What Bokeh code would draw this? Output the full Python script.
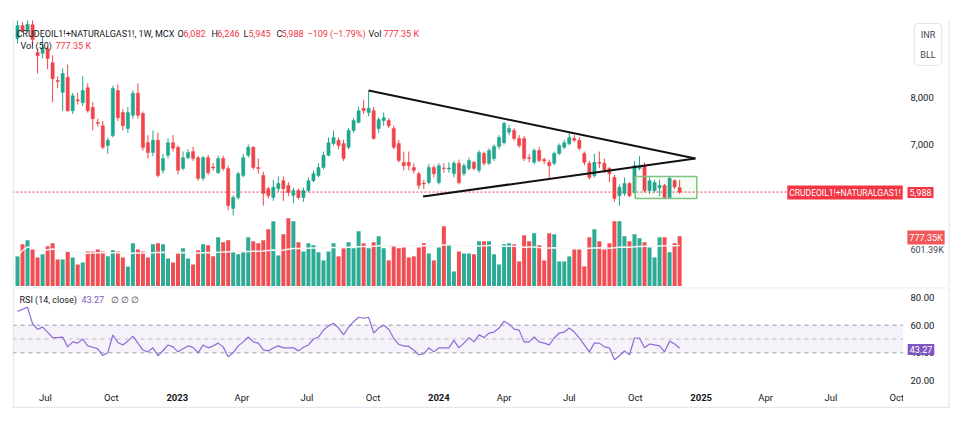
import pandas as pd
import numpy as np
from bokeh.plotting import figure
from bokeh.models import (Range1d, Label, Span, ColumnDataSource, BoxAnnotation)
from bokeh.layouts import column
from bokeh.embed import file_html
from bokeh.resources import INLINE

# ---------------- data (weekly, from 2022-05-23) ----------------
first_week = "2022-05-23"
opens = [9255, 9530, 9420, 9550, 8960, 8940, 9040, 8740, 8360, 8110,
         8430, 7720, 7950, 7890, 8210, 7790, 7470, 7400, 6980, 7190,
         8150, 7680, 7340, 7620, 8090, 7660, 7040, 6830, 7090, 6450,
         6770, 7040, 6940, 6490, 6720, 6850, 6720, 6280, 6720, 6520,
         6400, 6700, 6490, 5640, 5870, 6340, 6770, 6940, 6510, 6340,
         6060, 5870, 6060, 6230, 6130, 5920, 6020, 5870, 6020, 6230,
         6340, 6510, 6770, 7020, 7090, 7020, 6940, 7300, 7470, 7770,
         7680, 7720, 7340, 7510, 7510, 7340, 7020, 6620, 6620, 6510,
         6380, 6180, 6190, 6510, 6190, 6500, 6480, 6380, 6600, 6380,
         6490, 6620, 6450, 6810, 6600, 6700, 6960, 7040, 7260, 7300,
         7130, 7130, 6720, 6620, 6870, 6680, 6620, 6600, 6810, 6940,
         7020, 7130, 7090, 6810, 6600, 6340, 6620, 6600, 6490, 6300,
         5910, 5960, 6170, 5980, 6490, 6550, 6020, 6020, 6080, 6130,
         5870, 6230, 6082]
closes = [9532, 9420, 9560, 9230, 8890, 9060, 8830, 8400, 8340, 8510,
          7720, 8040, 7930, 8150, 7720, 7550, 7450, 6940, 7090, 8190,
          7570, 7400, 7680, 8090, 7620, 6940, 6830, 7090, 6340, 6700,
          7040, 6920, 6450, 6720, 6830, 6700, 6280, 6720, 6400, 6500,
          6700, 6490, 5700, 5870, 6380, 6720, 6940, 6510, 6490, 5960,
          5910, 6090, 6170, 6060, 5980, 6020, 5870, 6020, 6230, 6380,
          6510, 6770, 7040, 7150, 6980, 6700, 7300, 7510, 7720, 7720,
          7770, 7130, 7530, 7570, 7400, 6940, 6660, 6550, 6550, 6450,
          6130, 6160, 6510, 6380, 6550, 6490, 6500, 6600, 6190, 6550,
          6660, 6490, 6830, 6600, 6870, 6960, 7150, 7450, 7340, 7130,
          6980, 6700, 6700, 6870, 6660, 6650, 6550, 6810, 6980, 7040,
          7150, 7090, 6920, 6620, 6300, 6620, 6600, 6450, 6380, 5850,
          6090, 6170, 5910, 6550, 6550, 6020, 6230, 6190, 6130, 5870,
          6280, 6097, 5988]
highs = [9640, 9600, 9640, 9640, 9040, 9300, 9100, 8900, 8450, 8620,
         8700, 8100, 8100, 8450, 8300, 7900, 7550, 7500, 7150, 8250,
         8280, 7750, 7800, 8150, 8300, 7700, 7200, 7300, 7250, 6800,
         7130, 7200, 6980, 6850, 6900, 6950, 6760, 6760, 6780, 6600,
         6760, 6760, 6550, 5920, 6420, 6800, 7000, 6960, 6700, 6420,
         6100, 6250, 6320, 6320, 6200, 6080, 6060, 6080, 6300, 6450,
         6600, 6850, 7150, 7300, 7150, 7100, 7350, 7560, 7800, 7950,
         8150, 7800, 7580, 7680, 7560, 7400, 7100, 6850, 6850, 6600,
         6420, 6250, 6580, 6560, 6600, 6600, 6620, 6650, 6680, 6600,
         6720, 6650, 6880, 6850, 6920, 7000, 7200, 7480, 7420, 7350,
         7200, 7180, 6800, 6920, 6950, 6720, 6680, 6850, 7020, 7100,
         7250, 7200, 7150, 6850, 6650, 6800, 6850, 6700, 6520, 6350,
         6150, 6300, 6200, 6650, 6750, 6620, 6300, 6250, 6250, 6160,
         6320, 6260, 6246]
lows = [9150, 9380, 9390, 9100, 8510, 8830, 8600, 7900, 8200, 7720,
        7700, 7650, 7850, 7820, 7680, 7300, 7380, 6900, 6800, 7150,
        7500, 7300, 7250, 7550, 7550, 6870, 6700, 6750, 6300, 6380,
        6700, 6850, 6360, 6450, 6690, 6650, 6230, 6230, 6350, 6440,
        6380, 6440, 5600, 5490, 5830, 6300, 6720, 6460, 6380, 5700,
        5850, 5800, 6000, 5800, 5900, 5750, 5830, 5780, 5980, 6200,
        6300, 6470, 6750, 6980, 6900, 6650, 6900, 7250, 7450, 7650,
        7600, 7100, 7250, 7400, 7350, 6900, 6620, 6450, 6450, 6380,
        6050, 6050, 6150, 6300, 6150, 6400, 6400, 6300, 6150, 6330,
        6450, 6450, 6400, 6550, 6560, 6650, 6900, 7000, 7200, 7080,
        6930, 6650, 6620, 6580, 6620, 6580, 6250, 6560, 6780, 6900,
        6980, 7050, 6880, 6560, 6250, 6300, 6500, 6400, 6200, 5780,
        5700, 5900, 5880, 5950, 6450, 5980, 5950, 5980, 5900, 5840,
        5840, 6050, 5945]
volumes_k = [467, 653, 715, 575, 451, 498, 622, 669, 420, 420,
             544, 451, 342, 373, 544, 544, 575, 544, 467, 560,
             544, 451, 311, 669, 575, 544, 451, 653, 669, 653,
             435, 373, 513, 591, 435, 342, 560, 653, 638, 467,
             762, 684, 715, 544, 498, 544, 762, 700, 669, 715,
             886, 1011, 482, 809, 1057, 1011, 684, 544, 669, 638,
             529, 404, 544, 669, 467, 591, 684, 591, 855, 669,
             591, 684, 778, 591, 404, 622, 591, 606, 451, 467,
             606, 669, 513, 404, 606, 933, 653, 233, 544, 513,
             513, 498, 700, 700, 700, 498, 342, 653, 669, 653,
             389, 793, 700, 824, 638, 404, 824, 809, 389, 389,
             467, 575, 575, 311, 762, 886, 700, 575, 669, 1011,
             1011, 778, 700, 809, 746, 684, 606, 451, 762, 762,
             529, 669, 777.35]
rsi_values = [70, 71.5, 72.9, 61, 57, 58.6, 55, 51, 51, 51.4,
              44.3, 47.9, 47, 50, 45, 44, 42.9, 38, 40, 52.9,
              47.5, 45.7, 48.5, 52.1, 47, 42, 40.7, 43.6, 37.9, 41.5,
              45.7, 44.3, 40.7, 43, 45, 44, 40, 45.7, 43.6, 45,
              47, 44.3, 37.1, 40, 45, 47.9, 51.4, 47.9, 47, 42.1,
              41.4, 43.5, 45, 43.6, 43.6, 43.6, 41.4, 44, 45.7, 50,
              51.4, 56.5, 59.5, 61.4, 57.9, 53, 58.5, 62.5, 65.7, 65,
              65.7, 54.3, 57.9, 60, 57.1, 50.5, 46, 45, 44.6, 42,
              38.6, 39.3, 43.6, 40.7, 43.6, 43.6, 43.6, 49, 43.6, 47,
              51, 47.9, 53, 51, 54.3, 55, 57.9, 62.9, 60.7, 57.1,
              56.4, 47.9, 47.9, 51.4, 47.9, 47, 45.7, 50.7, 54.3, 55,
              57.9, 55, 50.7, 45.7, 40.7, 47, 47, 44.3, 43.6, 35,
              37.9, 41.4, 38.6, 50.7, 50.7, 43.6, 46.4, 45.7, 45, 40.7,
              48.6, 46.4, 43.27]

trend_upper_dates = ["2023-09-25", "2024-12-24"]
trend_upper_prices = [8149, 6702]
trend_lower_dates = ["2023-12-10", "2024-12-24"]
trend_lower_prices = [5894, 6702]
range_box_dates = ["2024-10-01", "2024-12-26"]
range_box_prices = [5851, 6319]

price_ticks = [7000, 8000]
price_tick_labels = ["7,000", "8,000"]
rsi_ticks = [20, 40, 60, 80]
rsi_tick_labels = ["20.00", "40.00", "60.00", "80.00"]
rsi_levels = [40, 50, 60]
last_price = 5988
vol_ma_last_label = "601.39K"
time_ticks = ["2022-07-01", "2022-10-01", "2023-01-01", "2023-04-01", "2023-07-01",
              "2023-10-01", "2024-01-01", "2024-04-01", "2024-07-01", "2024-10-01",
              "2025-01-01", "2025-04-01", "2025-07-01", "2025-10-01"]
time_labels = ["Jul", "Oct", "2023", "Apr", "Jul", "Oct", "2024", "Apr", "Jul", "Oct",
               "2025", "Apr", "Jul", "Oct"]

# ---------------- helpers ----------------
def ms(s):
    return pd.Timestamp(s).value / 1e6

UP, DOWN = "#22a68f", "#f0444a"
TXT, RED, PURPLE = "#131722", "#f23645", "#7e57c2"
BORDER = "#e0e3eb"
FONT = "Roboto"
WEEK = 7 * 24 * 3600 * 1000

dates = pd.date_range(first_week, periods=len(closes), freq="7D")
t = [d.value / 1e6 for d in dates]
o = np.array(opens, float); c = np.array(closes, float)
colors = [UP if cc >= oo else DOWN for oo, cc in zip(o, c)]
vol_ma = pd.Series(volumes_k).rolling(50, min_periods=1).mean().tolist()

src = ColumnDataSource(dict(t=t, o=o, c=c, h=highs, l=lows,
                            top=np.maximum(o, c), bottom=np.minimum(o, c),
                            color=colors, vol=volumes_k, ma=vol_ma))

W = 950
FL = 12          # frame left on page
P_BOTTOM = 286   # main frame bottom on page
R_BOTTOM = 408   # rsi frame bottom on page
PANE_END = ms("2025-10-10")      # right edge of the chart panes (price scale starts here)
DAY = 86400000

xr = Range1d(ms("2022-05-16"), ms("2025-12-15"))

p = figure(width=W, height=286, x_range=xr, y_range=Range1d(3979, 9681),
           output_backend="svg", toolbar_location=None,
           x_axis_location=None, y_axis_location=None,
           min_border_left=12, min_border_right=0, min_border_top=18, min_border_bottom=0)
p.outline_line_color = None
p.grid.visible = False
p.background_fill_color = "white"
p.border_fill_color = "white"

p.extra_y_ranges = {"vol": Range1d(0, 4154)}
p.vbar(x="t", width=WEEK * 0.8, top="vol", bottom=0, y_range_name="vol",
       fill_color="color", line_color=None, fill_alpha=0.95, source=src)
p.line(x="t", y="ma", y_range_name="vol", line_color="#f4f6f6", line_width=1.5, source=src)

p.line([xr.start, PANE_END], [last_price, last_price], line_color=RED,
       line_dash="2 2", line_width=1)
p.segment(x0="t", y0="l", x1="t", y1="h", line_color="color", line_width=1, source=src)
p.vbar(x="t", width=WEEK * 0.64, top="top", bottom="bottom", fill_color="color",
       line_color="color", line_width=0.5, source=src)

p.line([ms(d) for d in trend_upper_dates], trend_upper_prices, line_color="#111111", line_width=2)
p.line([ms(d) for d in trend_lower_dates], trend_lower_prices, line_color="#111111", line_width=2)
p.quad(left=ms(range_box_dates[0]), right=ms(range_box_dates[1]),
       bottom=range_box_prices[0], top=range_box_prices[1],
       fill_color="#4caf50", fill_alpha=0.05, line_color="#7cc47f", line_width=1.5)
p.add_layout(Span(location=xr.start + DAY, dimension="height", line_color=BORDER))
p.add_layout(Span(location=xr.end - 2 * DAY, dimension="height", line_color=BORDER))


def lab(fig, fbottom, px, py, text, color=TXT, size="9px", align="left", style="normal",
        y_data=None, **kw):
    if y_data is None:
        yk = dict(y=fbottom - py, y_units="screen")
    else:
        yk = dict(y=y_data, y_units="data")
    fig.add_layout(Label(x=px - FL, x_units="screen", text=text, text_color=color,
                         text_font_size=size, text_font=FONT, text_align=align,
                         text_baseline="middle", text_font_style=style, **yk, **kw))

# price scale labels
for v, s in zip(price_ticks, price_tick_labels):
    lab(p, P_BOTTOM, 910, None, s, TXT, "9.5px", y_data=v)

# header legend
lab(p, P_BOTTOM, 16, 33, "CRUDEOIL1!+NATURALGAS1!, 1W, MCX")
for x_, s_, col_ in [(177, "O", TXT), (183, "6,082", RED), (211, "H", TXT), (217, "6,246", RED),
                     (243, "L", TXT), (248, "5,945", RED), (276, "C", TXT), (281, "5,988", RED),
                     (307, "\u2212109 (\u22121.79%)", RED), (368, "Vol", TXT), (383, "777.35 K", RED)]:
    lab(p, P_BOTTOM, x_, 33, s_, col_)
lab(p, P_BOTTOM, 20, 45, "Vol (50)")
lab(p, P_BOTTOM, 55, 45, "777.35 K", RED)

# right-side tags
lab(p, P_BOTTOM, 844.5, 192, "CRUDEOIL1!+NATURALGAS1!", "white", "8.5px", "center",
    background_fill_color=RED, padding=2)
lab(p, P_BOTTOM, 920, 192, "5,988", "white", "9px", "center",
    background_fill_color=RED, padding=2)
lab(p, P_BOTTOM, 925.5, 237, "777.35K", "white", "9px", "center",
    background_fill_color="#f0585a", padding=2)
lab(p, P_BOTTOM, 910, 249, vol_ma_last_label, "#434651", "9px")
lab(p, P_BOTTOM, 927.5, 44, "INR\n\nBLL", "#434651", "9px", "center",
    background_fill_color="white", border_line_color=BORDER, border_radius=4,
    padding=6, text_line_height=1.0)

# ---------------- RSI pane ----------------
r = figure(width=W, height=122, x_range=xr, y_range=Range1d(-0.26, 87.23),
           output_backend="svg", toolbar_location=None,
           x_axis_location=None, y_axis_location=None,
           min_border_left=12, min_border_right=0, min_border_top=1, min_border_bottom=0)
r.outline_line_color = None
r.grid.visible = False

r.quad(left=xr.start, right=PANE_END, bottom=rsi_levels[0], top=rsi_levels[2],
       fill_color=PURPLE, fill_alpha=0.08, line_color=None)
for lv in rsi_levels:
    r.line([xr.start, PANE_END], [lv, lv], line_color="#8a8d96",
           line_dash="4 4", line_width=1, line_alpha=0.85 if lv != 50 else 0.5)
r.add_layout(Span(location=87.0, dimension="width", line_color=BORDER, line_width=1))
r.add_layout(Span(location=0.6, dimension="width", line_color=BORDER, line_width=1))
r.add_layout(Span(location=xr.start + DAY, dimension="height", line_color=BORDER))
r.add_layout(Span(location=xr.end - 2 * DAY, dimension="height", line_color=BORDER))
r.line(x=t, y=rsi_values, line_color="#8f6ad6", line_width=1.2)

for tm, lb in zip(time_ticks, time_labels):
    r.add_layout(Label(x=ms(tm), y=R_BOTTOM - 397, x_units="data", y_units="screen", text=lb,
                       text_font_size="9.5px", text_font=FONT,
                       text_font_style="bold" if lb.isdigit() else "normal",
                       text_color=TXT, text_align="center", text_baseline="middle"))
# price-scale column hides what runs past the pane edge
r.add_layout(BoxAnnotation(left=PANE_END, right=xr.end - 4 * DAY, bottom=2.0, top=14.0,
                           fill_color="white", fill_alpha=1.0, line_color=None))

for v, s in zip(rsi_ticks, rsi_tick_labels):
    lab(r, R_BOTTOM, 910, None, s, TXT, "9.5px", y_data=v)

lab(r, R_BOTTOM, 19, 299, "RSI (14, close)")
lab(r, R_BOTTOM, 81, 299, "43.27", PURPLE)
lab(r, R_BOTTOM, 110, 299, "\u2205  \u2205  \u2205", "#434651")
lab(r, R_BOTTOM, 920.5, 349, "43.27", "white", "9px", "center",
    background_fill_color=PURPLE, padding=2)

layout = column(p, r, spacing=0)
open("out.html", "w").write(file_html(layout, INLINE))
